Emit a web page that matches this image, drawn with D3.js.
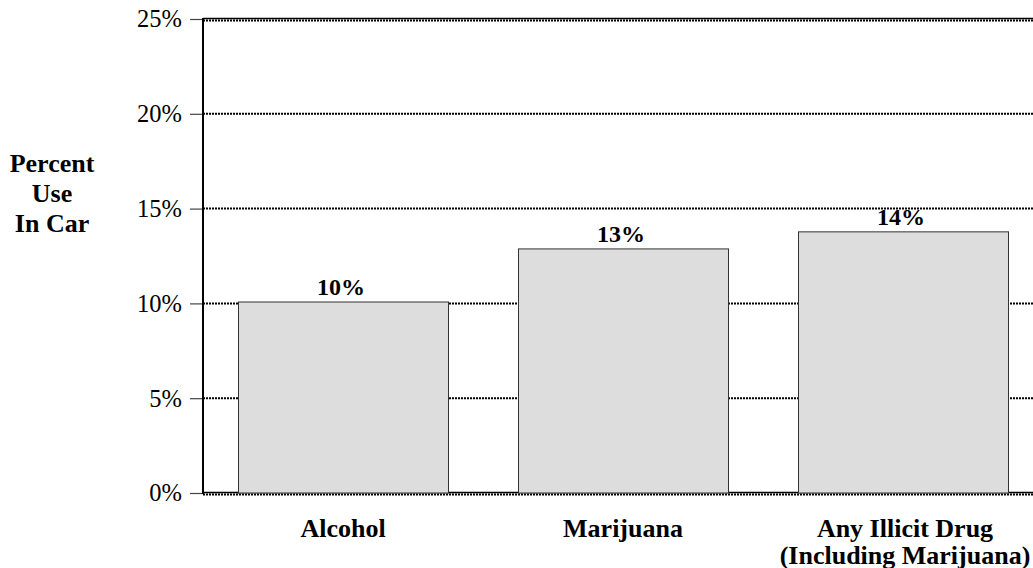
<!DOCTYPE html>
<html>
<head>
<meta charset="utf-8">
<script src="https://cdn.jsdelivr.net/npm/d3@7"></script>
<style>
  html, body { margin: 0; padding: 0; background: #fff; overflow: hidden; }
  svg { display: block; }
  text { font-family: "Liberation Serif", "Times New Roman", serif; fill: #000; }
</style>
</head>
<body>
<svg id="chart" width="1033" height="568"></svg>
<script>
// Share of respondents reporting use in a car, by substance
const categories = ["Alcohol", "Marijuana", "Any Illicit Drug\n(Including Marijuana)"];
const values = [10.1, 12.9, 13.8];
const valueLabels = ["10%", "13%", "14%"];
const yTicks = [0, 5, 10, 15, 20, 25];
const yTitle = ["Percent", "Use", "In Car"];

const svg = d3.select("#chart");
const plotLeft = 203, plotRight = 1043, plotTop = 19, plotBottom = 493;

const x = d3.scaleBand()
  .domain(categories)
  .range([plotLeft, plotRight])
  .paddingInner(0.25)
  .paddingOuter(0.125);

const y = d3.scaleLinear().domain([0, 25]).range([plotBottom, plotTop]);

// dotted horizontal gridlines
svg.append("g")
  .selectAll("line")
  .data(yTicks)
  .join("line")
  .attr("x1", plotLeft)
  .attr("x2", plotRight)
  .attr("y1", d => y(d) + (d === 0 || d === 25 ? 1.5 : 0))
  .attr("y2", d => y(d) + (d === 0 || d === 25 ? 1.5 : 0))
  .attr("stroke", "#000")
  .attr("stroke-width", 2)
  .attr("stroke-dasharray", "2,1");

// solid frame lines at the top and bottom of the plot
svg.append("g")
  .selectAll("line")
  .data([0, 25])
  .join("line")
  .attr("x1", plotLeft)
  .attr("x2", plotRight)
  .attr("y1", d => y(d) - 0.5)
  .attr("y2", d => y(d) - 0.5)
  .attr("stroke", "#000")
  .attr("stroke-width", 1.5);

// bars
svg.append("g")
  .selectAll("rect")
  .data(values)
  .join("rect")
  .attr("x", (d, i) => x(categories[i]) + 0.5)
  .attr("y", d => y(d) + 0.5)
  .attr("width", x.bandwidth())
  .attr("height", d => plotBottom - y(d) - 0.5)
  .attr("fill", "#dddddd")
  .attr("stroke", "#333")
  .attr("stroke-width", 1);

// value labels above bars
svg.append("g")
  .selectAll("text")
  .data(values)
  .join("text")
  .attr("x", (d, i) => x(categories[i]) + x.bandwidth() / 2 - 2)
  .attr("y", d => y(d) - 6.5)
  .attr("text-anchor", "middle")
  .attr("font-size", 24)
  .attr("font-weight", "bold")
  .text((d, i) => valueLabels[i]);

// y axis
const yAxis = d3.axisLeft(y)
  .tickValues(yTicks)
  .tickFormat(d => d + "%")
  .tickSize(13)
  .tickPadding(8);

const ya = svg.append("g")
  .attr("transform", `translate(${plotLeft},0)`)
  .call(yAxis);
ya.select(".domain").remove();
ya.selectAll(".tick line").attr("stroke", "#444").attr("stroke-width", 1.2);
ya.selectAll(".tick text")
  .attr("font-family", "'Liberation Serif', 'Times New Roman', serif")
  .attr("font-size", 24.5)
  .attr("fill", "#000");

svg.append("line")
  .attr("x1", plotLeft).attr("x2", plotLeft)
  .attr("y1", plotTop - 1).attr("y2", plotBottom + 1)
  .attr("stroke", "#000")
  .attr("stroke-width", 2);

// category labels
const xl = svg.append("g")
  .selectAll("text")
  .data(categories)
  .join("text")
  .attr("x", d => x(d) + x.bandwidth() / 2)
  .attr("y", 537)
  .attr("text-anchor", "middle")
  .attr("font-size", 26)
  .attr("font-weight", "bold");
xl.each(function(d) {
  const lines = d.split("\n");
  d3.select(this).selectAll("tspan")
    .data(lines)
    .join("tspan")
    .attr("x", x(d) + x.bandwidth() / 2 + (lines.length > 1 ? 2 : 0))
    .attr("dy", (l, i) => i === 0 ? 0 : 27)
    .text(l => l);
});

// y axis title
svg.append("text")
  .attr("text-anchor", "middle")
  .attr("font-size", 26)
  .attr("font-weight", "bold")
  .selectAll("tspan")
  .data(yTitle)
  .join("tspan")
  .attr("x", 52)
  .attr("y", (d, i) => 172 + i * 30)
  .text(d => d);
</script>
</body>
</html>
